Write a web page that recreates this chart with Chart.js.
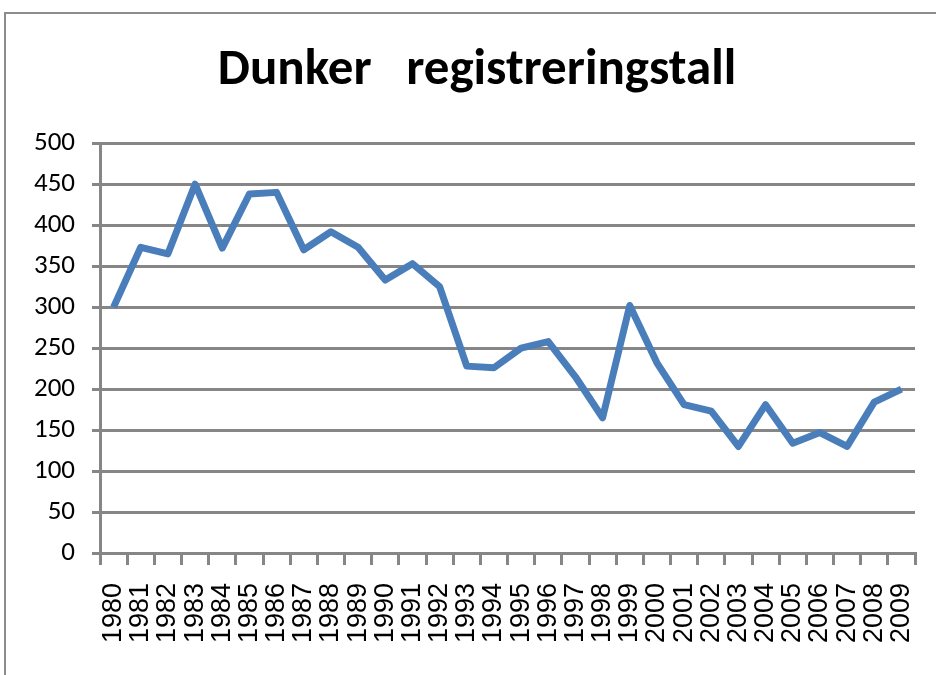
<!DOCTYPE html>
<html>
<head>
<meta charset="utf-8">
<script src="https://cdn.jsdelivr.net/npm/chart.js@4"></script>
<style>
  html, body { margin: 0; padding: 0; background: #fff; overflow: hidden; }
  #frame { position: absolute; left: 4px; top: 12px; width: 1000px; height: 1000px; border: 2px solid #8c8c8c; }
  #wrap { position: absolute; left: 0; top: 0; width: 936px; height: 675px; }
</style>
</head>
<body>
<div id="frame"></div>
<div id="wrap"><canvas id="chart-line"></canvas></div>
<script>
// data
const years = ["1980", "1981", "1982", "1983", "1984", "1985", "1986", "1987", "1988", "1989",
  "1990", "1991", "1992", "1993", "1994", "1995", "1996", "1997", "1998", "1999",
  "2000", "2001", "2002", "2003", "2004", "2005", "2006", "2007", "2008", "2009"];
const registrations = [300, 373, 365, 450, 372, 438, 440, 370, 392, 373,
  333, 353, 325, 228, 226, 250, 258, 215, 165, 302,
  232, 181, 173, 130, 181, 134, 147, 130, 184, 200];
const titleText = "Dunker   registreringstall";

const gridGray = "#868686";

var ctx = document.getElementById("chart-line").getContext("2d");

new Chart(ctx, {
  type: "line",
  data: {
    labels: years,
    datasets: [{
      label: "Dunker",
      data: registrations,
      borderColor: "#4a7ebb",
      borderWidth: 7,
      borderJoinStyle: "round",
      pointRadius: 0,
      tension: 0,
      fill: false,
    }],
  },
  options: {
    responsive: true,
    maintainAspectRatio: false,
    animation: false,
    layout: {
      // left padding shifts the title centre to match the reference
      padding: { left: 18, right: 0, top: 0, bottom: 0 },
    },
    plugins: {
      legend: { display: false },
      tooltip: { enabled: false },
      title: {
        display: true,
        text: titleText,
        color: "#000",
        font: { family: "Carlito, Lato, sans-serif", size: 51, weight: "bold", lineHeight: 1.2 },
        padding: { top: 41, bottom: 41 },
      },
    },
    scales: {
      x: {
        offset: true,
        afterFit: function (scale) {
          scale.height = 122;
          scale.paddingLeft = 0;
          scale.paddingRight = 21;
        },
        grid: {
          display: true,
          drawOnChartArea: false,
          drawTicks: true,
          offset: true,
          tickLength: 12,
          color: gridGray,
          lineWidth: 3,
        },
        border: { display: true, color: gridGray, width: 3 },
        ticks: {
          minRotation: 90,
          maxRotation: 90,
          autoSkip: false,
          padding: 18,
          color: "#000",
          font: { family: "'Liberation Sans', Arial, sans-serif", size: 27 },
        },
      },
      y: {
        min: 0,
        max: 500,
        afterFit: function (scale) { scale.width = 82; },
        grid: {
          display: true,
          drawOnChartArea: true,
          drawTicks: true,
          tickLength: 8,
          color: gridGray,
          lineWidth: 3,
        },
        border: { display: true, color: gridGray, width: 3 },
        ticks: {
          stepSize: 50,
          padding: 17,
          color: "#000",
          font: { family: "Carlito, Lato, sans-serif", size: 27 },
        },
      },
    },
  },
});
</script>
</body>
</html>
